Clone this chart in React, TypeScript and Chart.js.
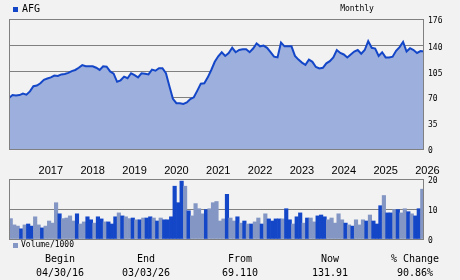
import React, { useEffect, useRef } from "react";
import { Chart, registerables } from "chart.js";

Chart.register(...registerables);

// ---------- data ----------
const ticker = "AFG";
const periodLabel = "Monthly";

// monthly closes, 04/2016 .. 03/2026
const priceValues = [
  69.1, 73, 72.5, 73, 75, 73.5, 78, 85, 86, 89,
  93.6, 95.5, 97, 99.5, 99, 101, 101.5, 103, 105.5, 107,
  110, 113.5, 112, 112, 112, 110, 107, 112, 111.5, 105,
  102, 91, 93, 98, 95.8, 102.5, 100, 97, 102.5, 102,
  101, 107.5, 106, 109.4, 109.4, 102.6, 85, 68, 62, 62,
  61, 63, 67.5, 70, 79, 88.5, 89, 97, 107, 118,
  125.5, 131, 126, 130, 137, 131, 134, 135, 135, 131,
  136, 143, 139, 140, 137, 131, 125, 124, 144, 139,
  139, 139, 126, 121, 117, 114, 121, 118, 111, 109,
  110, 116, 119, 124, 134, 130, 128, 124, 128, 132,
  134, 129, 134, 146, 137, 136, 126, 131, 124, 124,
  125, 133, 138, 145, 132, 136.5, 134, 130, 132.5, 131.9,
];

const yearLabels = ["2017", "2018", "2019", "2020", "2021", "2022", "2023", "2024", "2025", "2026"];
const yearTickIndex = [12, 24, 36, 48, 60, 72, 84, 96, 108, 120];
const priceTicks = [0, 35, 70, 105, 140, 176];

// monthly volume / 1000
const volumeValues = [
  6.8, 4.7, 4.3, 3.4, 4.7, 5.0, 4.3, 7.4, 4.7, 3.7,
  4.3, 6.0, 5.3, 12.1, 8.4, 6.8, 7.0, 7.7, 6.0, 8.4,
  5.0, 5.7, 7.4, 6.4, 5.3, 7.4, 6.7, 5.7, 5.7, 5.0,
  7.4, 8.7, 7.7, 7.4, 6.8, 7.0, 6.4, 6.4, 7.0, 7.0,
  7.4, 7.0, 6.0, 7.0, 6.4, 6.4, 7.4, 17.6, 12.1, 19.3,
  17.6, 9.4, 7.7, 11.8, 10.1, 8.4, 9.8, 10.1, 12.1, 12.5,
  6.0, 6.7, 14.9, 7.0, 6.0, 7.4, 5.3, 6.0, 5.0, 5.0,
  5.7, 7.0, 5.0, 8.4, 6.7, 6.0, 6.7, 6.7, 6.7, 10.1,
  6.4, 5.0, 7.4, 8.7, 5.3, 7.0, 7.0, 5.7, 7.7, 8.0,
  7.4, 6.4, 7.0, 5.3, 8.4, 6.4, 5.3, 4.7, 4.3, 6.4,
  4.7, 6.4, 6.0, 8.0, 6.0, 5.0, 11.1, 14.5, 8.7, 8.7,
  9.8, 9.8, 8.7, 10.1, 9.1, 8.4, 7.7, 10.1, 16.6,
];
// 1 = up month (dark bar), 0 = down month (light bar)
const volumeUp = [
  0, 0, 0, 1, 0, 1, 1, 0, 0, 1,
  0, 0, 0, 0, 1, 0, 0, 0, 0, 1,
  0, 0, 1, 1, 0, 1, 1, 0, 1, 1,
  1, 0, 1, 0, 0, 1, 0, 1, 0, 1,
  1, 0, 1, 0, 1, 1, 1, 1, 1, 1,
  0, 1, 0, 0, 0, 0, 1, 0, 0, 0,
  0, 0, 1, 0, 0, 1, 0, 1, 0, 1,
  0, 0, 1, 0, 1, 1, 1, 1, 0, 1,
  1, 0, 1, 1, 0, 1, 0, 0, 1, 1,
  1, 0, 0, 0, 0, 0, 1, 0, 1, 0,
  0, 0, 1, 0, 1, 1, 1, 0, 1, 1,
  0, 1, 0, 0, 1, 0, 1, 1, 0,
];
const volumeTicks = [0, 10, 20];
const volumeLegend = "Volume/1000";

const summaryLabels = ["Begin", "End", "From", "Now", "% Change"];
const summaryValues = ["04/30/16", "03/03/26", "69.110", "131.91", "90.86%"];

// ---------- style ----------
const BG = "#f2f2f2";
const GRID = "#808080";
const LINE = "#1446c8";
const FILL = "#9db0dd";
const BAR_DARK = "#1446c8";
const BAR_LIGHT = "#8497c4";
const MONO = '"DejaVu Sans Mono", "Liberation Mono", monospace';
const SANS = '"Liberation Sans", Arial, sans-serif';

const framePlugin = {
  id: "frame",
  afterDatasetsDraw(chart: any) {
    const { ctx, chartArea } = chart;
    const { left, top, right, bottom } = chartArea;
    ctx.save();
    ctx.strokeStyle = GRID;
    ctx.lineWidth = 1;
    ctx.strokeRect(left + 0.5, top + 0.5, right - left - 1, bottom - top);
    ctx.restore();
  },
};

export default function App() {
  const priceRef = useRef<HTMLCanvasElement>(null);
  const volRef = useRef<HTMLCanvasElement>(null);

  useEffect(() => {
    const priceChart = new Chart(priceRef.current as HTMLCanvasElement, {
      type: "line",
      data: {
        datasets: [
          {
            data: priceValues.map((v, i) => ({ x: i, y: v })),
            borderColor: LINE,
            borderWidth: 2,
            backgroundColor: FILL,
            fill: "origin",
            pointRadius: 0,
            tension: 0,
          },
        ],
      },
      options: {
        animation: false,
        responsive: false,
        devicePixelRatio: 1,
        layout: { padding: { left: 9, top: 19, right: 0, bottom: 0 } },
        plugins: { legend: { display: false }, tooltip: { enabled: false } },
        scales: {
          x: {
            type: "linear",
            min: 0,
            max: priceValues.length - 1,
            grid: { display: false, drawTicks: false },
            border: { display: false },
            afterBuildTicks: (s: any) => {
              s.ticks = yearTickIndex.map((v) => ({ value: v }));
            },
            afterFit: (s: any) => {
              s.height = 27;
              s.paddingLeft = 0;
              s.paddingRight = 0;
            },
            ticks: {
              autoSkip: false,
              maxRotation: 0,
              padding: 15,
              color: "#000",
              font: { family: SANS, size: 11 },
              callback: (_v: any, i: number) => yearLabels[i],
            },
          },
          y: {
            position: "right",
            min: 0,
            max: 176,
            afterBuildTicks: (s: any) => {
              s.ticks = priceTicks.map((v) => ({ value: v }));
            },
            afterFit: (s: any) => {
              s.width = 36;
              s.paddingTop = 0;
              s.paddingBottom = 0;
            },
            grid: { color: GRID, lineWidth: 1, drawTicks: false },
            border: { display: false },
            ticks: {
              padding: 4,
              labelOffset: 2,
              color: "#000",
              font: { family: MONO, size: 8 },
              callback: (v: any) => String(v),
            },
          },
        },
      } as any,
      plugins: [framePlugin],
    });

    const volChart = new Chart(volRef.current as HTMLCanvasElement, {
      type: "bar",
      data: {
        labels: volumeValues.map((_, i) => String(i)),
        datasets: [
          {
            data: volumeValues,
            backgroundColor: volumeUp.map((u) => (u ? BAR_DARK : BAR_LIGHT)),
            borderWidth: 0,
            barPercentage: 1,
            categoryPercentage: 1,
          },
        ],
      },
      options: {
        animation: false,
        responsive: false,
        devicePixelRatio: 1,
        layout: { padding: { left: 9, top: 3, right: 0, bottom: 11 } },
        plugins: { legend: { display: false }, tooltip: { enabled: false } },
        scales: {
          x: { display: false },
          y: {
            position: "right",
            min: 0,
            max: 20,
            afterBuildTicks: (s: any) => {
              s.ticks = volumeTicks.map((v) => ({ value: v }));
            },
            afterFit: (s: any) => {
              s.width = 36;
              s.paddingTop = 0;
              s.paddingBottom = 0;
            },
            grid: { color: GRID, lineWidth: 1, drawTicks: false },
            border: { display: false },
            ticks: {
              padding: 4,
              labelOffset: 1.5,
              color: "#000",
              font: { family: MONO, size: 8 },
              callback: (v: any) => String(v),
            },
          },
        },
      } as any,
      plugins: [framePlugin],
    });

    return () => {
      priceChart.destroy();
      volChart.destroy();
    };
  }, []);

  const colCenters = [60, 146, 240, 330, 415];

  return (
    <div
      style={{
        position: "fixed",
        left: 0,
        top: 0,
        width: 460,
        height: 280,
        background: BG,
        overflow: "hidden",
        fontFamily: MONO,
        color: "#000",
      }}
    >
      <canvas
        ref={priceRef}
        width={460}
        height={176}
        style={{ position: "absolute", left: 0, top: 0, width: 460, height: 176 }}
      />
      <canvas
        ref={volRef}
        width={460}
        height={74}
        style={{ position: "absolute", left: 0, top: 176, width: 460, height: 74 }}
      />
      {/* legend */}
      <div style={{ position: "absolute", left: 13, top: 7, width: 5, height: 5, background: LINE }} />
      <div style={{ position: "absolute", left: 22, top: 3, fontSize: 10, lineHeight: "12px" }}>{ticker}</div>
      <div
        style={{
          position: "absolute",
          left: 307,
          width: 100,
          top: 3,
          fontSize: 8,
          lineHeight: "12px",
          textAlign: "center",
        }}
      >
        {periodLabel}
      </div>
      <div style={{ position: "absolute", left: 13, top: 243, width: 5, height: 5, background: BAR_LIGHT }} />
      <div style={{ position: "absolute", left: 21, top: 239, fontSize: 8, lineHeight: "12px" }}>{volumeLegend}</div>
      {summaryLabels.map((t, i) => (
        <div
          key={"l" + i}
          style={{
            position: "absolute",
            left: colCenters[i] - 50,
            width: 100,
            top: 253,
            fontSize: 10,
            lineHeight: "12px",
            textAlign: "center",
            whiteSpace: "pre",
          }}
        >
          {t}
        </div>
      ))}
      {summaryValues.map((t, i) => (
        <div
          key={"v" + i}
          style={{
            position: "absolute",
            left: colCenters[i] - 50,
            width: 100,
            top: 266.5,
            fontSize: 10,
            lineHeight: "12px",
            textAlign: "center",
            whiteSpace: "pre",
          }}
        >
          {t}
        </div>
      ))}
    </div>
  );
}
